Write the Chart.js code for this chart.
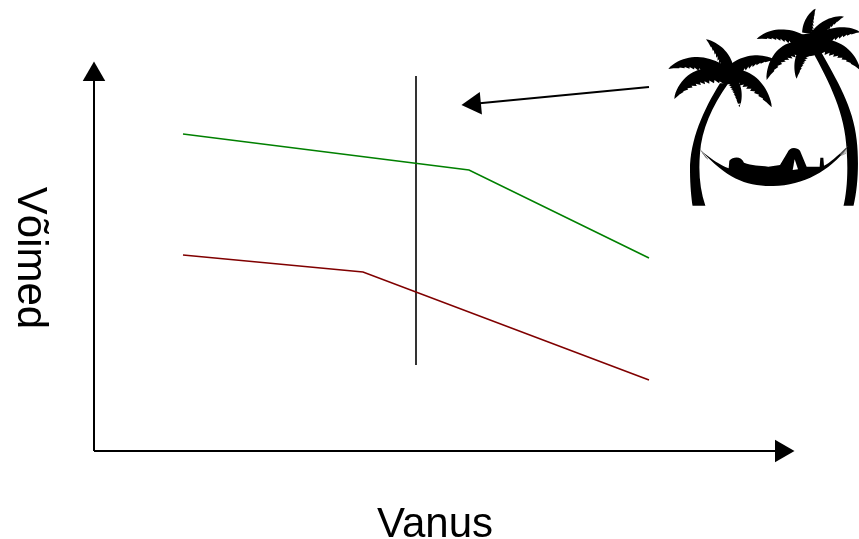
<!DOCTYPE html>
<html lang="et">
<head>
<meta charset="utf-8">
<title>Võimed ja vanus</title>
<script src="https://cdn.jsdelivr.net/npm/chart.js@4/dist/chart.umd.min.js"></script>
<style>
  html, body { margin: 0; background: #fff; }
  #chart { display: block; }
</style>
</head>
<body>
<canvas id="chart" width="859" height="539"></canvas>
<script>
// andmed, loetud pildilt (telgede algus = 0,0)
const xLabel = "Vanus";
const yLabel = "Võimed";
const greenAges = [89, 375, 555];
const greenValues = [317, 281, 193];
const redAges = [89, 269, 555];
const redValues = [196, 179, 71];
const markerAges = [322, 322];
const markerValues = [86, 375];
const xAxisAges = [0, 687.5];
const xAxisValues = [0, 0];
const yAxisAges = [0, 0];
const yAxisValues = [0, 376.5];
const pointerAges = [555, 380.4];
const pointerValues = [364, 347.2];

const zip = (xs, ys) => xs.map((x, i) => ({ x, y: ys[i] }));

function line(xs, ys, color, width) {
  return {
    data: zip(xs, ys), borderColor: color, borderWidth: width,
    showLine: true, tension: 0, pointRadius: 0, clip: false
  };
}

function arrow(xs, ys, rotation) {
  return {
    ...line(xs, ys, "#000", 2),
    pointStyle: "triangle",
    pointRadius: [0, 13],
    pointRotation: rotation,
    pointBackgroundColor: "#000",
    pointBorderWidth: 0
  };
}

// üks palmileht: selgroog + saagjas alumine serv
function frond(ctx, sx, sy, cx, cy, ex, ey, w) {
  const n = 22, up = [], down = [];
  for (let i = 0; i <= n; i++) {
    const t = i / n, u = 1 - t;
    const px = u * u * sx + 2 * u * t * cx + t * t * ex;
    const py = u * u * sy + 2 * u * t * cy + t * t * ey;
    const dx = 2 * u * (cx - sx) + 2 * t * (ex - cx);
    const dy = 2 * u * (cy - sy) + 2 * t * (ey - cy);
    const len = Math.hypot(dx, dy) || 1;
    const nx = -dy / len, ny = dx / len;
    const prof = w * Math.pow(Math.sin(Math.PI * Math.min(1, t * 0.7 + 0.3)), 0.7);
    const side = ny >= 0 ? 1 : -1;
    up.push([px - side * nx * prof * 0.8, py - side * ny * prof * 0.8]);
    const teeth = i % 2 ? 1.2 : 0.8;
    down.push([
      px + side * nx * prof * teeth - dx / len * (i % 2 ? 6 : 0),
      py + side * ny * prof * teeth - dy / len * (i % 2 ? 6 : 0)
    ]);
  }
  ctx.beginPath();
  ctx.moveTo(up[0][0], up[0][1]);
  for (const p of up) ctx.lineTo(p[0], p[1]);
  for (const p of down.reverse()) ctx.lineTo(p[0], p[1]);
  ctx.closePath();
  ctx.fill();
}

// palmid ja võrkkiik paremas ülanurgas (3x koordinaadid)
const palmPicture = {
  id: "palmPicture",
  afterDraw(chart) {
    const ctx = chart.ctx;
    ctx.save();
    ctx.translate(640, 0);
    ctx.scale(1 / 3, 1 / 3);
    ctx.beginPath();
    ctx.rect(0, 0, 657, 617);
    ctx.clip();
    ctx.fillStyle = "#000";

    // tüved
    ctx.beginPath();
    ctx.moveTo(240, 250);
    ctx.bezierCurveTo(190, 330, 150, 420, 150, 510);
    ctx.bezierCurveTo(150, 560, 155, 600, 158, 620);
    ctx.lineTo(197, 620);
    ctx.bezierCurveTo(180, 570, 175, 520, 180, 460);
    ctx.bezierCurveTo(185, 390, 215, 320, 265, 250);
    ctx.closePath();
    ctx.fill();

    ctx.beginPath();
    ctx.moveTo(515, 150);
    ctx.bezierCurveTo(570, 250, 615, 340, 620, 450);
    ctx.bezierCurveTo(625, 520, 620, 580, 610, 620);
    ctx.lineTo(640, 620);
    ctx.bezierCurveTo(655, 560, 657, 480, 650, 420);
    ctx.bezierCurveTo(640, 320, 590, 240, 540, 150);
    ctx.closePath();
    ctx.fill();

    // latvade südamikud
    ctx.beginPath();
    ctx.ellipse(262, 225, 32, 28, 0, 0, Math.PI * 2);
    ctx.ellipse(505, 135, 42, 34, 0, 0, Math.PI * 2);
    ctx.fill();

    // vasaku palmi lehed
    frond(ctx, 262, 222, 170, 160, 85, 207, 22);
    frond(ctx, 262, 225, 150, 205, 103, 297, 24);
    frond(ctx, 268, 222, 262, 160, 198, 118, 20);
    frond(ctx, 262, 222, 320, 165, 405, 180, 20);
    frond(ctx, 262, 222, 350, 225, 395, 322, 24);
    frond(ctx, 268, 228, 300, 260, 298, 322, 16);

    // parema palmi lehed
    frond(ctx, 510, 135, 430, 80, 350, 117, 20);
    frond(ctx, 505, 140, 410, 135, 380, 240, 24);
    frond(ctx, 505, 140, 470, 170, 470, 236, 18);
    frond(ctx, 505, 135, 490, 75, 527, 26, 18);
    frond(ctx, 505, 135, 545, 65, 612, 50, 18);
    frond(ctx, 505, 135, 590, 80, 660, 97, 20);
    frond(ctx, 505, 135, 610, 125, 660, 210, 24);

    // võrkkiik ja inimene
    ctx.beginPath();
    ctx.moveTo(185, 453);
    ctx.bezierCurveTo(260, 535, 320, 560, 400, 558);
    ctx.bezierCurveTo(490, 556, 570, 512, 622, 443);
    ctx.lineTo(618, 443);
    ctx.bezierCurveTo(590, 470, 570, 488, 552, 497);
    ctx.lineTo(550, 473);
    ctx.lineTo(541, 473);
    ctx.lineTo(539, 500);
    ctx.lineTo(500, 500);
    ctx.lineTo(480, 452);
    ctx.bezierCurveTo(470, 440, 448, 440, 442, 458);
    ctx.lineTo(420, 495);
    ctx.lineTo(385, 500);
    ctx.bezierCurveTo(360, 495, 335, 498, 312, 488);
    ctx.bezierCurveTo(305, 468, 280, 468, 268, 482);
    ctx.lineTo(266, 505);
    ctx.bezierCurveTo(240, 495, 210, 475, 185, 453);
    ctx.closePath();
    ctx.fill();

    // valge kolmnurk jalgade vahel
    ctx.fillStyle = "#fff";
    ctx.beginPath();
    ctx.moveTo(464, 478);
    ctx.lineTo(458, 510);
    ctx.lineTo(474, 508);
    ctx.closePath();
    ctx.fill();

    // nöörid kiige otstes
    ctx.strokeStyle = "#777";
    ctx.lineWidth = 2;
    for (let i = 0; i < 5; i++) {
      ctx.beginPath();
      ctx.moveTo(180 + i * 4, 447 + i * 6);
      ctx.lineTo(196 + i * 2, 470 + i * 2);
      ctx.moveTo(622 - i, 440 + i * 5);
      ctx.lineTo(600 + i, 462 + i);
      ctx.stroke();
    }
    ctx.restore();
  }
};

// telgede nimed (y-telje oma loetakse ülalt alla)
const axisNames = {
  id: "axisNames",
  afterDraw(chart) {
    const ctx = chart.ctx;
    ctx.save();
    ctx.fillStyle = "#000";
    ctx.font = '42px "Liberation Sans"';
    ctx.textAlign = "center";
    ctx.textBaseline = "alphabetic";
    ctx.fillText(xLabel, 435, 537);
    ctx.translate(18, 258);
    ctx.rotate(Math.PI / 2);
    ctx.fillText(yLabel, 0, 0);
    ctx.restore();
  }
};

new Chart(document.getElementById("chart").getContext("2d"), {
  type: "scatter",
  data: {
    datasets: [
      line(greenAges, greenValues, "#008000", 1.6),
      line(redAges, redValues, "#800000", 1.6),
      line(markerAges, markerValues, "#000", 1.6),
      arrow(xAxisAges, xAxisValues, 90),
      arrow(yAxisAges, yAxisValues, 0),
      arrow(pointerAges, pointerValues, 264.5)
    ]
  },
  options: {
    responsive: false,
    animation: false,
    layout: { padding: { left: 94, right: 65, top: 62, bottom: 88 } },
    plugins: { legend: { display: false }, tooltip: { enabled: false } },
    scales: {
      x: { type: "linear", display: false, min: 0, max: 700 },
      y: { type: "linear", display: false, min: 0, max: 389 }
    }
  },
  plugins: [palmPicture, axisNames]
});
</script>
</body>
</html>
